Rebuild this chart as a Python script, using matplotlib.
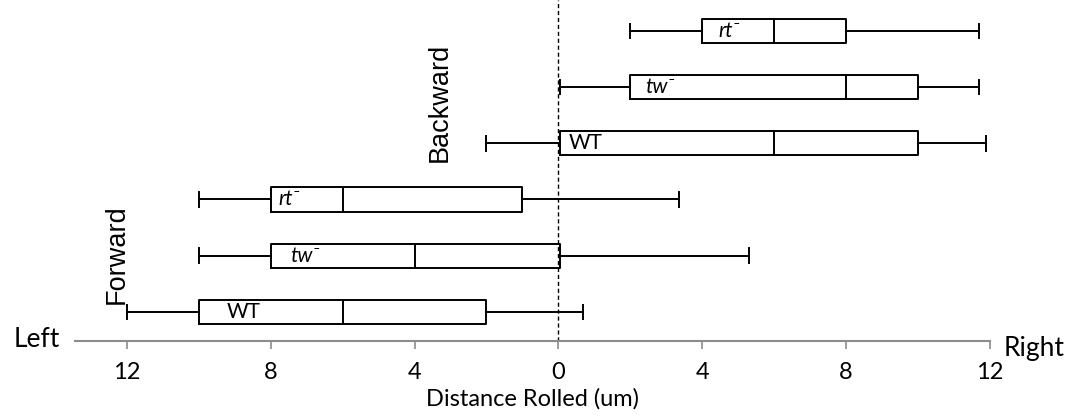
import matplotlib
matplotlib.use("Agg")
import matplotlib.pyplot as plt
from matplotlib.ticker import FuncFormatter

plt.rcParams['font.family'] = ['Lato', 'DejaVu Sans']

# boxes from bottom to top: forward WT, tw-, rt-, then backward WT, tw-, rt-
groups = ["WT", "tw⁻", "rt⁻", "WT", "tw⁻", "rt⁻"]
whisker_lo = [-12.0, -10.0, -10.0, -2.0, 0.05, 2.0]
q1 = [-10.0, -8.0, -8.0, 0.05, 2.0, 4.0]
medians = [-6.0, -4.0, -6.0, 6.0, 8.0, 6.0]
q3 = [-2.0, 0.05, -1.0, 10.0, 10.0, 8.0]
whisker_hi = [0.7, 5.3, 3.35, 11.9, 11.7, 11.7]
ticks = [-12, -8, -4, 0, 4, 8, 12]

# how far each label sits inside its box
label_pad = [0.78, 0.55, 0.22, 0.25, 0.42, 0.45]

fig = plt.figure(figsize=(10.71, 4.19), dpi=100)
ax = fig.add_axes([0.070, 0.186, 0.854, 0.814])

stats = []
for i in range(len(groups)):
    stats.append({"whislo": whisker_lo[i], "q1": q1[i], "med": medians[i],
                  "q3": q3[i], "whishi": whisker_hi[i], "fliers": []})

line = dict(color="black", linewidth=1.4)
ax.bxp(stats, positions=range(1, len(groups) + 1), vert=False, widths=0.43,
       showfliers=False, boxprops=line, whiskerprops=line, capprops=line,
       medianprops=line, capwidths=0.26)

# labels inside the boxes
for i, g in enumerate(groups):
    style = "normal" if g == "WT" else "italic"
    ax.text(q1[i] + label_pad[i], i + 1, g, fontsize=15, style=style,
            ha="left", va="center")

ax.axvline(0, color="black", linestyle=(0, (3, 2)), linewidth=1.0)

ax.set_xlim(-13.45, 12.0)
ax.set_ylim(0.48, 6.55)
ax.set_xticks(ticks)
ax.xaxis.set_major_formatter(FuncFormatter(lambda v, p: "%d" % abs(v)))
ax.set_yticks([])
for s in ["top", "left", "right"]:
    ax.spines[s].set_visible(False)
ax.spines["bottom"].set_color("#8c8c8c")
ax.spines["bottom"].set_linewidth(1.5)
ax.tick_params(axis="x", colors="#8c8c8c", length=6, width=1.2,
               labelsize=17, labelcolor="black", pad=9)
ax.set_xlabel("Distance Rolled (um)", fontsize=17, labelpad=4)

fig.text(0.034, 0.190, "Left", fontsize=19, ha="center", va="center")
fig.text(0.966, 0.169, "Right", fontsize=19, ha="center", va="center")
ax.text(-3.3, 4.72, "Backward", fontsize=19.5, rotation=90, ha="center",
        va="center", family=["Liberation Sans", "DejaVu Sans"])
ax.text(-12.3, 2.02, "Forward", fontsize=19.5, rotation=90, ha="center",
        va="center", family=["Liberation Sans", "DejaVu Sans"])

fig.savefig("out.png", dpi=100)
